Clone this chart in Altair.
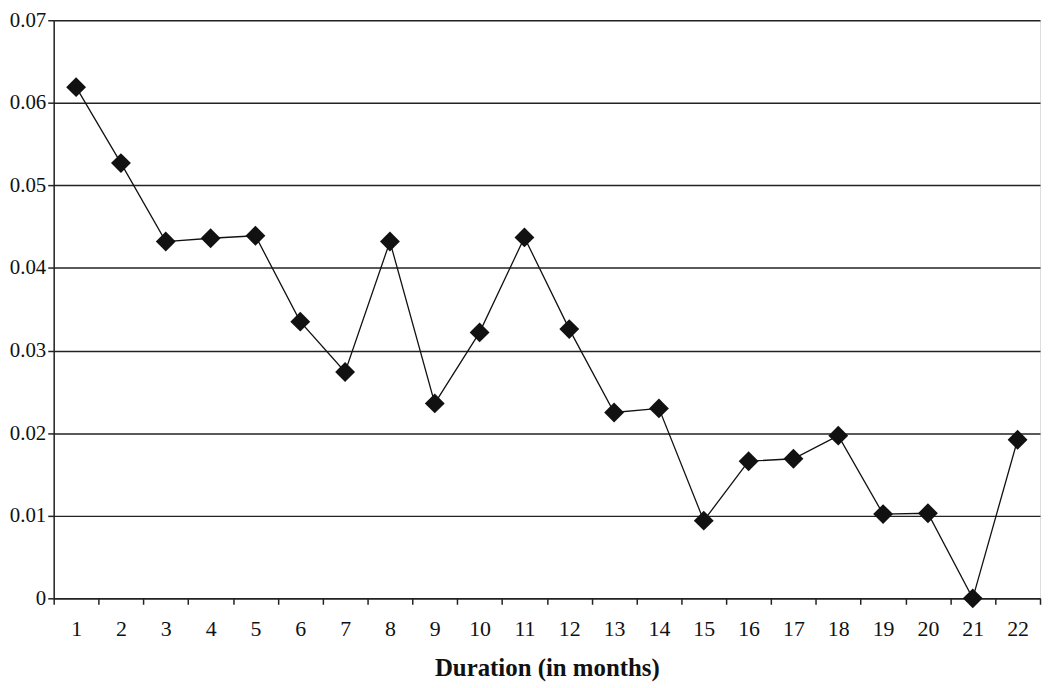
import altair as alt
import pandas as pd

months = [str(i) for i in range(1, 23)]
values = [0.0619, 0.0527, 0.0432, 0.0436, 0.0439, 0.0335, 0.0274, 0.0432, 0.0236, 0.0322,
          0.0437, 0.0326, 0.0225, 0.0230, 0.0094, 0.0166, 0.0169, 0.0197, 0.0102, 0.0103,
          0.0, 0.0192]

df = pd.DataFrame({"month": months, "value": values})
FONT = "Liberation Serif"

x = alt.X("month:N", sort=months, scale=alt.Scale(paddingInner=0, paddingOuter=0),
          axis=alt.Axis(title="Duration (in months)", labelAngle=0, tickBand="extent",
                        tickSize=6, tickColor="#222", tickWidth=1.5, domainColor="#222",
                        domainWidth=1.5, labelFontSize=22, labelPadding=14, labelColor="#111",
                        titleFontSize=25, titleFontWeight="bold", titlePadding=17,
                        titleColor="#111", labelFont=FONT, titleFont=FONT, grid=False))
y = alt.Y("value:Q", scale=alt.Scale(domain=[0, 0.07], nice=False),
          axis=alt.Axis(title=None, values=[0, 0.01, 0.02, 0.03, 0.04, 0.05, 0.06, 0.07],
                        labelExpr="datum.value == 0 ? '0' : format(datum.value, '.2f')",
                        tickSize=6, tickColor="#222", tickWidth=1.5, domainColor="#222",
                        domainWidth=1.5, labelFontSize=21, labelPadding=2, labelColor="#111",
                        labelFont=FONT, grid=True, gridColor="#222", gridWidth=1.5))

base = alt.Chart(df)
line = base.mark_line(color="#111", strokeWidth=1.3).encode(x=x, y=y)
pts = base.mark_point(shape="diamond", filled=True, size=400, color="#111", opacity=1).encode(x=x, y=y)

chart = (line + pts).properties(
    width=993, height=582,
    autosize=alt.AutoSizeParams(type="none"),
    padding={"left": 46, "top": 10, "right": 2, "bottom": 92},
).configure_view(stroke="#222", strokeWidth=1.5).configure(background="white")

chart.save("out.html", embed_options={"renderer": "svg", "actions": False})
